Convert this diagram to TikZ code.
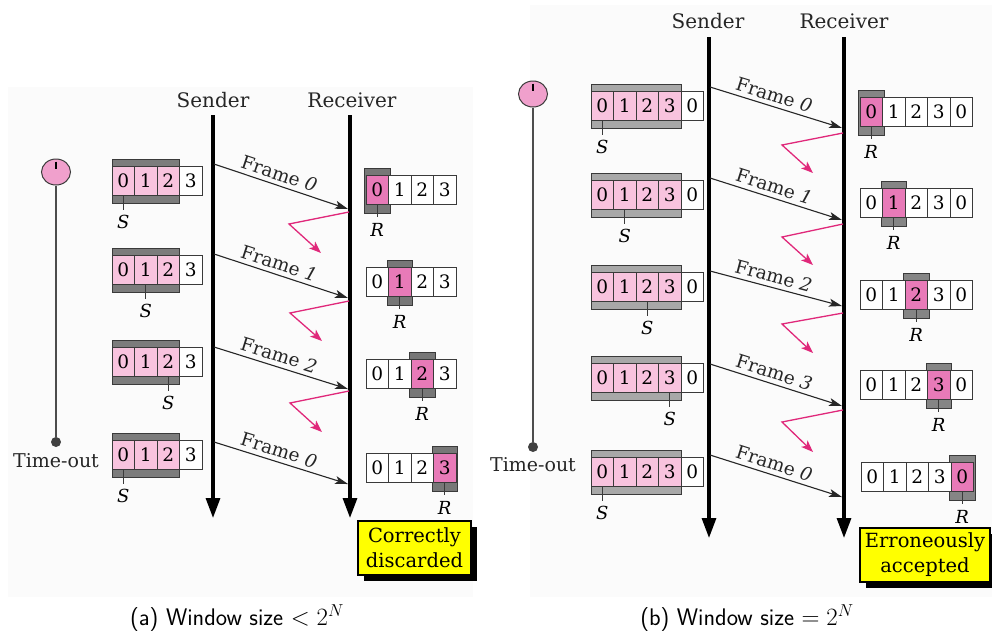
\documentclass[tikz,border=0pt]{standalone}
\usepackage{fontspec}
\setmainfont{DejaVu Serif}
\usetikzlibrary{arrows.meta,shapes.geometric}
\definecolor{lpink}{HTML}{F8C3DE}
\definecolor{dpink}{HTML}{E87AB8}
\definecolor{tpink}{HTML}{F0A0CC}
\definecolor{ackc}{HTML}{E0287A}
\definecolor{bandA}{HTML}{7C7C7C}
\definecolor{bandB}{HTML}{A8A8A8}
\definecolor{rgrayA}{HTML}{777777}
\definecolor{rgrayB}{HTML}{858585}
\definecolor{cellline}{HTML}{3A3A3A}
\definecolor{panelbg}{HTML}{FBFBFB}
\definecolor{boxyellow}{HTML}{FFFF00}
\tikzset{
 cell/.style={draw=cellline, line width=0.8pt, minimum width=22.5pt, minimum height=29pt, inner sep=0pt, font=\fontsize{18.5}{18.5}\selectfont},
 band/.style={draw=cellline, line width=0.8pt},
 lifeline/.style={line width=3.2pt, -{Triangle[length=20pt,width=14pt]}},
 framearrow/.style={line width=1.1pt, black!85, -{Stealth[length=13pt,width=8pt,inset=3pt]}},
 ackarrow/.style={line width=1.3pt, ackc, -{Stealth[length=12pt,width=9pt,inset=3pt]}},
 flabel/.style={sloped, above, inner sep=4pt, font=\fontsize{18.5}{18.5}\selectfont, text=black!85},
 ptr/.style={line width=0.9pt, cellline},
 ptrlabel/.style={font=\fontsize{18}{18}\selectfont\itshape, inner sep=0pt},
 actor/.style={font=\fontsize{20}{20}\selectfont, inner sep=0pt, text=black!85},
 timer/.style={ellipse, draw=cellline, line width=1pt, fill=tpink, minimum width=29pt, minimum height=26pt, inner sep=0pt},
 tdot/.style={circle, fill=black!75, minimum size=10pt, inner sep=0pt},
 tline/.style={line width=1.2pt, black!70},
 tolabel/.style={font=\fontsize{19}{19}\selectfont, inner sep=0pt, text=black!85},
 result/.style={draw=black, line width=1.2pt, fill=boxyellow, align=center, font=\fontsize{19.5}{25}\selectfont, inner sep=0pt},
 shadowbox/.style={fill=black},
 caption/.style={font=\sffamily\fontsize{24}{24}\selectfont, inner sep=0pt},
}
% sender window: #1 name, #2 x0, #3 yc, #4 digits, #5 band cells, #6 S index
\newcommand{\SWin}[6]{%
  \filldraw[band, fill=\bandcol] (#2,#3-22) rectangle (#2+22.5*#5,#3+22);
  \foreach \d [count=\i from 0] in {#4}{%
    \ifnum\i<#5\relax\def\cf{lpink}\else\def\cf{white}\fi
    \node[cell, fill=\cf] (#1c\i) at (#2+11.25+22.5*\i,#3) {\d};
  }
  \coordinate (#1p) at (#2+11.25+22.5*#6,#3+14.5);
  \draw[ptr] (#1p) -- ++(0,14.5);
  \node[ptrlabel] (#1S) at (#2+11.25+22.5*#6,#3+41) {S};
}
% receiver window: #1 name, #2 x0, #3 yc, #4 digits, #5 highlighted index
\newcommand{\RWin}[5]{%
  \filldraw[band, fill=\rbandcol] (#2+22.5*#5-1.5,#3-22) rectangle (#2+22.5*#5+24,#3+23);
  \foreach \d [count=\i from 0] in {#4}{%
    \ifnum\i=#5\relax\def\cf{dpink}\else\def\cf{white}\fi
    \node[cell, fill=\cf] (#1c\i) at (#2+11.25+22.5*\i,#3) {\d};
  }
  \coordinate (#1p) at (#2+11.25+22.5*#5,#3+14.5);
  \draw[ptr] (#1p) -- ++(0,12.5);
  \node[ptrlabel] (#1R) at (#2+11.25+22.5*#5,#3+40) {R};
}
\begin{document}
\begin{tikzpicture}[x=1pt,y=-1pt]
\useasboundingbox (0,0) rectangle (992,635);
\fill[panelbg] (8,87) rectangle (473,597);
\fill[panelbg] (530,5) rectangle (992,597);

%%%%%%%%%%%%%%%% panel (a)
\node[actor] (senA) at (213,100) {Sender};
\node[actor] (recA) at (352,100) {Receiver};
\coordinate (senAtop) at (213,115); \coordinate (senAbot) at (213,518);
\coordinate (recAtop) at (350,115); \coordinate (recAbot) at (350,518);
\draw[lifeline] (senAtop) -- (senAbot);
\draw[lifeline] (recAtop) -- (recAbot);

\node[timer] (tA) at (56,172) {};
\draw[line width=2pt] (tA.north) ++(0,3) -- ++(0,7);
\node[tdot] (dA) at (56,442) {};
\draw[tline] (tA.south) -- (dA);
\node[tolabel] (toA) at (56,461) {Time-out};

\def\bandcol{bandA}
\SWin{sa1}{112}{181}{0,1,2,3}{3}{0}
\SWin{sa2}{112}{270}{0,1,2,3}{3}{1}
\SWin{sa3}{112}{362}{0,1,2,3}{3}{2}
\SWin{sa4}{112}{455}{0,1,2,3}{3}{0}
\def\rbandcol{rgrayA}
\RWin{ra1}{366}{190}{0,1,2,3}{0}
\RWin{ra2}{366}{282}{0,1,2,3}{1}
\RWin{ra3}{366}{374}{0,1,2,3}{2}
\RWin{ra4}{366}{468}{0,1,2,3}{3}

\coordinate (fa1s) at (214,164); \coordinate (fa1e) at (348,209);
\coordinate (fa2s) at (214,254); \coordinate (fa2e) at (348,298);
\coordinate (fa3s) at (214,347); \coordinate (fa3e) at (348,389);
\coordinate (fa4s) at (214,442); \coordinate (fa4e) at (348,484);
\draw[framearrow] (fa1s) -- node[flabel,pos=0.46] {Frame \textit{0}} (fa1e);
\draw[framearrow] (fa2s) -- node[flabel,pos=0.46] {Frame \textit{1}} (fa2e);
\draw[framearrow] (fa3s) -- node[flabel,pos=0.46] {Frame \textit{2}} (fa3e);
\draw[framearrow] (fa4s) -- node[flabel,pos=0.46] {Frame \textit{0}} (fa4e);

\coordinate (ka1a) at (349,212); \coordinate (ka1b) at (289,224); \coordinate (ka1c) at (321,253);
\coordinate (ka2a) at (349,301); \coordinate (ka2b) at (290,313); \coordinate (ka2c) at (322,341);
\coordinate (ka3a) at (349,391); \coordinate (ka3b) at (290,403); \coordinate (ka3c) at (322,432);
\draw[ackarrow] (ka1a) -- (ka1b) -- (ka1c);
\draw[ackarrow] (ka2a) -- (ka2b) -- (ka2c);
\draw[ackarrow] (ka3a) -- (ka3b) -- (ka3c);

\fill[shadowbox] (364,527) rectangle (477,581);
\node[result, minimum width=113pt, minimum height=54pt] (resA) at (414.5,548) {Correctly\\discarded};

\node[caption] (capA) at (237,618) {(a) Window size $<2^N$};

%%%%%%%%%%%%%%%% panel (b)
\node[actor] (senB) at (708,21) {Sender};
\node[actor] (recB) at (844,21) {Receiver};
\coordinate (senBtop) at (709,37); \coordinate (senBbot) at (709,538);
\coordinate (recBtop) at (844,37); \coordinate (recBbot) at (844,538);
\draw[lifeline] (senBtop) -- (senBbot);
\draw[lifeline] (recBtop) -- (recBbot);

\node[timer] (tB) at (533,94) {};
\draw[line width=2pt] (tB.north) ++(0,3) -- ++(0,7);
\node[tdot] (dB) at (533,447) {};
\draw[tline] (tB.south) -- (dB);
\node[tolabel] (toB) at (533,465) {Time-out};

\def\bandcol{bandB}
\SWin{sb1}{591}{106}{0,1,2,3,0}{4}{0}
\SWin{sb2}{591}{195}{0,1,2,3,0}{4}{1}
\SWin{sb3}{591}{287}{0,1,2,3,0}{4}{2}
\SWin{sb4}{591}{378}{0,1,2,3,0}{4}{3}
\SWin{sb5}{591}{472}{0,1,2,3,0}{4}{0}
\def\rbandcol{rgrayB}
\RWin{rb1}{860}{112}{0,1,2,3,0}{0}
\RWin{rb2}{860}{203}{0,1,2,3,0}{1}
\RWin{rb3}{860}{295}{0,1,2,3,0}{2}
\RWin{rb4}{860}{385}{0,1,2,3,0}{3}
\RWin{rb5}{861}{477}{0,1,2,3,0}{4}

\coordinate (fb1s) at (710,87);  \coordinate (fb1e) at (842,128);
\coordinate (fb2s) at (710,178); \coordinate (fb2e) at (842,220);
\coordinate (fb3s) at (710,271); \coordinate (fb3e) at (842,306);
\coordinate (fb4s) at (710,364); \coordinate (fb4e) at (842,406);
\coordinate (fb5s) at (710,455); \coordinate (fb5e) at (842,497);
\draw[framearrow] (fb1s) -- node[flabel,pos=0.46] {Frame \textit{0}} (fb1e);
\draw[framearrow] (fb2s) -- node[flabel,pos=0.46] {Frame \textit{1}} (fb2e);
\draw[framearrow] (fb3s) -- node[flabel,pos=0.46] {Frame \textit{2}} (fb3e);
\draw[framearrow] (fb4s) -- node[flabel,pos=0.46] {Frame \textit{3}} (fb4e);
\draw[framearrow] (fb5s) -- node[flabel,pos=0.46] {Frame \textit{0}} (fb5e);

\coordinate (kb1a) at (843,133); \coordinate (kb1b) at (782,145); \coordinate (kb1c) at (813,173);
\coordinate (kb2a) at (843,224); \coordinate (kb2b) at (782,237); \coordinate (kb2c) at (813,265);
\coordinate (kb3a) at (843,313); \coordinate (kb3b) at (782,324); \coordinate (kb3c) at (813,353);
\coordinate (kb4a) at (843,410); \coordinate (kb4b) at (782,422); \coordinate (kb4c) at (813,452);
\draw[ackarrow] (kb1a) -- (kb1b) -- (kb1c);
\draw[ackarrow] (kb2a) -- (kb2b) -- (kb2c);
\draw[ackarrow] (kb3a) -- (kb3b) -- (kb3c);
\draw[ackarrow] (kb4a) -- (kb4b) -- (kb4c);

\fill[shadowbox] (866,534) rectangle (998,588);
\node[result, minimum width=130pt, minimum height=54pt] (resB) at (925,555) {Erroneously\\accepted};

\node[caption] (capB) at (747,618) {(b) Window size $=2^N$};
\end{tikzpicture}
\end{document}
